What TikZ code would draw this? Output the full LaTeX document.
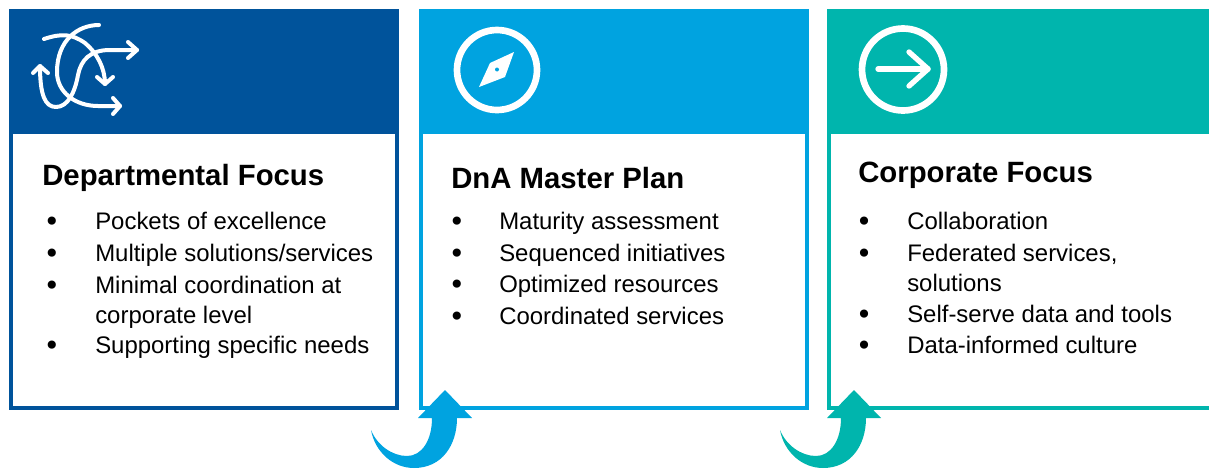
\documentclass[tikz,border=0pt]{standalone}
\usepackage{fontspec}
\setmainfont{Liberation Sans}
\newfontfamily\bulletfont{DejaVu Sans}
\definecolor{navy}{HTML}{00539B}
\definecolor{sky}{HTML}{00A3E0}
\definecolor{teal2}{HTML}{00B5AD}
\tikzset{
 x=0.75pt,y=-0.75pt,
 panelbox/.style={draw=#1,line width=3pt,fill=white,inner sep=0pt,outer sep=0pt,anchor=north west},
 headbox/.style={fill=#1,inner sep=0pt,outer sep=0pt,anchor=north west,minimum height=93.75pt},
 titletext/.style={anchor=base west,inner sep=0pt,font=\fontsize{22}{26}\selectfont\bfseries},
 bodytext/.style={anchor=base west,inner sep=0pt,font=\fontsize{17.95}{21}\selectfont},
 bullettext/.style={anchor=base,inner sep=0pt,yshift=-1.5pt,font=\bulletfont\fontsize{21}{24}\selectfont},
 iconline/.style={draw=white,line width=3pt,line cap=round,line join=round},
 iconbold/.style={draw=white,line width=4pt,line cap=round,line join=round},
 ring/.style={draw=white,line width=5pt},
}
\begin{document}
\begin{tikzpicture}
\useasboundingbox (0,0) rectangle (1209,468);
% panel bodies
\node[panelbox=navy,minimum width=289.5pt,minimum height=297.75pt] (p1) at (11,11) {};
\node[panelbox=sky,minimum width=289.5pt,minimum height=297.75pt] (p2) at (421,11) {};
\fill[white] (829,11) rectangle (1209,407);
\fill[teal2] (827,9) rectangle (831,410);
\fill[teal2] (827,405.5) rectangle (1209,410);
% headers
\node[headbox=navy,minimum width=292.5pt] (h1) at (9,9) {};
\node[headbox=sky,minimum width=292.5pt] (h2) at (419,9) {};
\node[headbox=teal2,minimum width=286.5pt] (h3) at (827,9) {};
% icon 1
\draw[iconline] (99,25) .. controls (78,25) and (57,40) .. (57,72) .. controls (57,92) and (75,106) .. (98,106) -- (120,106);
\draw[iconline] (113,98) -- (120,106) -- (113,114);
\draw[iconline] (44,39) .. controls (62,33) and (72,34) .. (85,43) .. controls (97,53) and (105,68) .. (105,84);
\draw[iconline] (97,77) -- (105,84) -- (113,77);
\draw[iconline] (137,50) -- (110,50) .. controls (90,50) and (81,60) .. (78,75) .. controls (75,92) and (68,107) .. (56,107) .. controls (45,107) and (40,95) .. (40,66);
\draw[iconline] (128,42) -- (137,50) -- (128,58);
\draw[iconline] (33,73) -- (40,66) -- (48,73);
% icon 2
\draw[ring] (497,70) circle (40);
\fill[white] (514,52) -- (505,77) -- (479,87) -- (490,63) -- cycle;
\fill[sky] (497,69.5) circle (2);
% icon 3
\draw[ring] (903,69.5) circle (41);
\draw[iconbold] (878,69) -- (928,69);
\draw[iconbold] (909,52) -- (928,69) -- (909,86);
% panel 1 text
\node[titletext] (t1) at (42,185) {Departmental Focus};
\node[bullettext] (b11) at (52,229) {•};
\node[bodytext] (l11) at (95,229) {Pockets of excellence};
\node[bullettext] (b12) at (52,261) {•};
\node[bodytext] (l12) at (95,261) {Multiple solutions/services};
\node[bullettext] (b13) at (52,293) {•};
\node[bodytext] (l13) at (95,293) {Minimal coordination at};
\node[bodytext] (l14) at (95,323) {corporate level};
\node[bullettext] (b14) at (52,353) {•};
\node[bodytext] (l15) at (95,353) {Supporting specific needs};
% panel 2 text
\node[titletext] (t2) at (451,188) {DnA Master Plan};
\node[bullettext] (b21) at (457,229) {•};
\node[bodytext] (l21) at (499,229) {Maturity assessment};
\node[bullettext] (b22) at (457,261) {•};
\node[bodytext] (l22) at (499,261) {Sequenced initiatives};
\node[bullettext] (b23) at (457,292) {•};
\node[bodytext] (l23) at (499,292) {Optimized resources};
\node[bullettext] (b24) at (457,324) {•};
\node[bodytext] (l24) at (499,324) {Coordinated services};
% panel 3 text
\node[titletext] (t3) at (858,182) {Corporate Focus};
\node[bullettext] (b31) at (864,229) {•};
\node[bodytext] (l31) at (907,229) {Collaboration};
\node[bullettext] (b32) at (864,261) {•};
\node[bodytext] (l32) at (907,261) {Federated services,};
\node[bodytext] (l33) at (907,291) {solutions};
\node[bullettext] (b33) at (864,322) {•};
\node[bodytext] (l34) at (907,322) {Self-serve data and tools};
\node[bullettext] (b34) at (864,353) {•};
\node[bodytext] (l35) at (907,353) {Data-informed culture};
% curved arrows
\fill[sky] (445,390) -- (472,418) -- (457,418) .. controls (457,445) and (442,468) .. (414,468) .. controls (393,468) and (375,452) .. (371,430) .. controls (377,445) and (392,456) .. (407,456) .. controls (422,456) and (432,440) .. (432,418) -- (418,418) -- cycle;
\fill[teal2] (854,390) -- (881,418) -- (866,418) .. controls (866,445) and (851,468) .. (823,468) .. controls (802,468) and (784,452) .. (780,430) .. controls (786,445) and (801,456) .. (816,456) .. controls (831,456) and (841,440) .. (841,418) -- (827,418) -- cycle;
\end{tikzpicture}
\end{document}
